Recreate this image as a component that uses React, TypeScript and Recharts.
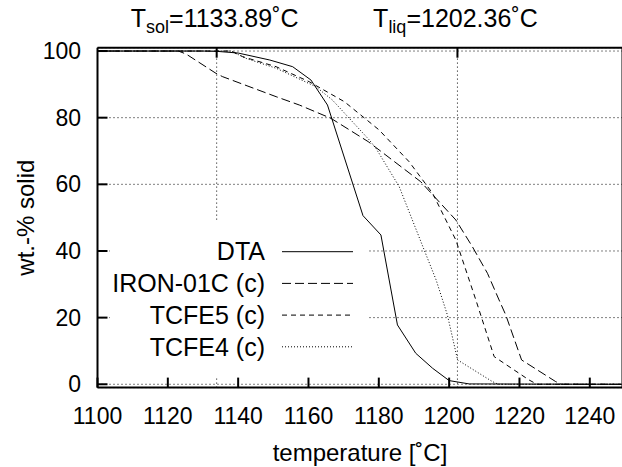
import React from 'react';
import { LineChart, Line, XAxis, YAxis, CartesianGrid, ReferenceLine, Legend, Label } from 'recharts';

// axis ticks
const X_TICKS = [1100, 1120, 1140, 1160, 1180, 1200, 1220, 1240];
const Y_TICKS = [0, 20, 40, 60, 80, 100];
// solidus / liquidus temperatures marked along the top
const T_MARKS = [1133.89, 1202.36];
const T_SUBS = ['sol', 'liq'];

// DTA measurement
const dtaT = [1100, 1130, 1134, 1140, 1149, 1155.5, 1160.7, 1165.4, 1175.5, 1180.6, 1185.3, 1190.5, 1195.3, 1200, 1205.7, 1249];
const dtaV = [100, 100, 99.9, 99.4, 97.3, 95.3, 91.3, 83.8, 50.6, 44.8, 17.8, 9.3, 4.8, 1.1, 0.1, 0];

// IRON-01C (calc)
const ironT = [1100, 1123, 1125.2, 1133.7, 1135.6, 1150.8, 1157.4, 1166.4, 1177, 1191.9, 1201.9, 1206.6, 1210.9, 1214.2, 1216.1, 1220.6, 1230.3, 1232, 1249];
const ironV = [100, 100, 99.1, 93.3, 92.3, 86.3, 83.8, 79.8, 72.8, 60.8, 49.3, 41.3, 33.3, 25.3, 20.8, 7.3, 0.8, 0, 0];

// TCFE5 (calc)
const tcfe5T = [1100, 1138, 1141.3, 1150.8, 1160.2, 1170.2, 1180.1, 1188.6, 1195.3, 1201.9, 1207.6, 1212.8, 1222.7, 1225, 1249];
const tcfe5V = [100, 100, 98.3, 95.3, 90.8, 84.8, 76.3, 66.8, 57.3, 43.3, 25.3, 8.3, 1.3, 0, 0];

// TCFE4 (calc)
const tcfe4T = [1100, 1138, 1142.2, 1150.9, 1162.1, 1166.8, 1177.3, 1179.2, 1185.8, 1192.9, 1196.3, 1199.5, 1202.4, 1212.3, 1214, 1249];
const tcfe4V = [100, 100, 97.8, 94.8, 89.3, 85.3, 73.3, 70.8, 59.3, 40.3, 31.3, 20.8, 7.3, 0.8, 0, 0];

const zip = (t: number[], v: number[]) => t.map((x, i) => ({ t: x, v: v[i] }));

const SERIES = [
  { name: 'DTA', data: zip(dtaT, dtaV), dash: undefined },
  { name: 'IRON-01C (c)', data: zip(ironT, ironV), dash: '9 4' },
  { name: 'TCFE5 (c)', data: zip(tcfe5T, tcfe5V), dash: '5 4' },
  { name: 'TCFE4 (c)', data: zip(tcfe4T, tcfe4V), dash: '1 2' },
];

const FONT = '"Liberation Sans", Arial, Helvetica, sans-serif';
const GRID = '#000';

// label for the Tsol / Tliq reference lines: top tick mark + text above the frame
function TLabel(props: any) {
  const { viewBox, idx } = props;
  const x = viewBox.x;
  const top = viewBox.y;
  return (
    <g>
      <line x1={x} x2={x} y1={top} y2={top + 10} stroke="#000" strokeWidth={2} />
      <text x={x - 2} y={top - 21} textAnchor="middle" fontSize={25} fill="#000">
        T
        <tspan dy={6} fontSize={18}>{T_SUBS[idx]}</tspan>
        <tspan dy={-6}>={T_MARKS[idx].toFixed(2)}˚C</tspan>
      </text>
    </g>
  );
}

function YTitle(props: any) {
  const { viewBox } = props;
  const cx = 26;
  const cy = viewBox.y + viewBox.height / 2;
  return (
    <text x={cx} y={cy} dy="0.35em" textAnchor="middle" fontSize={24} fill="#000"
      transform={`rotate(-90 ${cx} ${cy})`}>
      wt.-% solid
    </text>
  );
}

function KeyBox() {
  return (
    <svg width={258} height={155} style={{ display: 'block', background: '#fff' }}>
      {SERIES.map((s, i) => {
        const y = 29.7 + i * 31.7;
        return (
          <g key={s.name}>
            <text x={155} y={y} dy="0.35em" textAnchor="end" fontSize={25} fill="#000" fontFamily={FONT}>
              {s.name}
            </text>
            <line x1={172} x2={243} y1={y} y2={y} stroke="#000" strokeWidth={1} strokeDasharray={s.dash} />
          </g>
        );
      })}
    </svg>
  );
}

export default function App() {
  return (
    <div style={{ position: 'absolute', left: 0, top: 0, width: 622, height: 467, overflow: 'hidden', background: '#fff', fontFamily: FONT }}>
      <LineChart width={632.5} height={467} margin={{ top: 17.7, right: 0, bottom: 19.4, left: 37.5 }}>
        <CartesianGrid vertical={false} stroke={GRID} strokeDasharray="1 3" />
        <XAxis
          dataKey="t"
          type="number"
          domain={[1100, 1249.3]}
          ticks={X_TICKS}
          interval={0}
          height={60}
          tickSize={-10}
          tickMargin={29.7}
          axisLine={{ stroke: '#000', strokeWidth: 2 }}
          tickLine={{ stroke: '#000', strokeWidth: 2 }}
          tick={{ fontSize: 23, fill: '#000' }}
        >
          <Label position="bottom" offset={-4} value="temperature [˚C]" fontSize={24} fill="#000" />
        </XAxis>
        <XAxis
          xAxisId="top"
          orientation="top"
          dataKey="t"
          type="number"
          domain={[1100, 1249.3]}
          height={30}
          tick={false}
          tickLine={false}
          axisLine={{ stroke: '#000', strokeWidth: 2 }}
        />
        <YAxis
          type="number"
          domain={[-1, 101]}
          ticks={Y_TICKS}
          interval={0}
          width={60}
          tickSize={-10}
          tickMargin={26.5}
          axisLine={{ stroke: '#000', strokeWidth: 2 }}
          tickLine={{ stroke: '#000', strokeWidth: 2 }}
          tick={{ fontSize: 23, fill: '#000' }}
        >
          <Label content={<YTitle />} />
        </YAxis>
        <YAxis
          yAxisId="right"
          orientation="right"
          type="number"
          domain={[-1, 101]}
          ticks={Y_TICKS}
          interval={0}
          width={10}
          tickSize={-10}
          tick={false}
          axisLine={{ stroke: '#000', strokeWidth: 2 }}
          tickLine={{ stroke: '#000', strokeWidth: 2 }}
        />
        {T_MARKS.map((m, i) => (
          <ReferenceLine
            key={m}
            x={m}
            stroke={GRID}
            strokeDasharray="1 3"
            label={<TLabel idx={i} />}
          />
        ))}
        {SERIES.map((s) => (
          <Line
            key={s.name}
            data={s.data}
            dataKey="v"
            name={s.name}
            type="linear"
            stroke="#000"
            strokeWidth={1}
            strokeDasharray={s.dash}
            dot={false}
            activeDot={false}
            isAnimationActive={false}
          />
        ))}
        <Legend
          layout="horizontal"
          verticalAlign="middle"
          align="center"
          width={258}
          height={155}
          wrapperStyle={{ left: 110, top: 222, width: 258, height: 155 }}
          content={() => <KeyBox />}
        />
      </LineChart>
    </div>
  );
}
